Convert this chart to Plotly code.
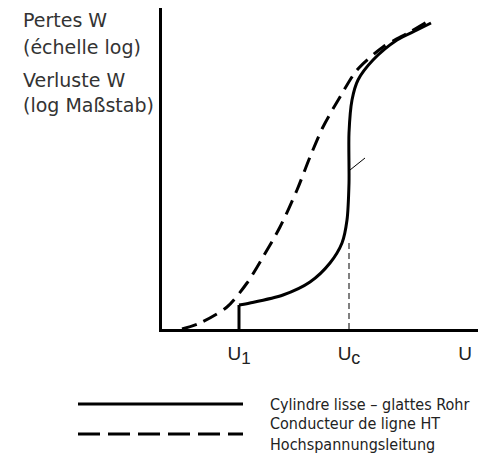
import plotly.graph_objects as go

# Achsen-Einheiten: U nach rechts, log W nach oben (schematisch)
u_glatt = [77, 77, 88, 121, 148, 168, 180, 185, 187, 187, 190, 196, 211, 235, 255, 269]
w_glatt = [0, 24, 26, 34, 47, 66, 86, 109, 146, 196, 229, 249, 269, 289, 299, 306]

u_leiter = [20, 38, 65, 85, 101, 118, 135, 148, 161, 178, 195, 221, 248, 265]
w_leiter = [0, 6, 22, 46, 72, 102, 139, 172, 202, 232, 259, 282, 297, 307]

u_c = 187
w_c_top = 89
tick_vals = [77, 187, 303]
tick_text = ["U<sub><span style='font-size:17px'>1</span></sub>",
             "U<sub><span style='font-size:18px'>c</span></sub>", "U"]

leg_glatt = "Cylindre lisse – glattes Rohr"
leg_leiter = "Conducteur de ligne HT<br>Hochspannungsleitung"

# Seite hat 8px Rand (body margin) -> Figur etwas kleiner
OFF = 8
W, H = 486 - OFF, 456 - OFF
L, B, T = 162 - OFF, 127, 0


def px(xs):  # Bildschirm-Pixel -> paper (x)
    return (xs - OFF - L) / (W - L)


def py(ys):  # Bildschirm-Pixel -> paper (y)
    return (H - B - (ys - OFF)) / (H - B - T)


fig = go.Figure()

# glattes Rohr: senkrechter Sprung bei U1, dann Kurve
fig.add_trace(go.Scatter(x=u_glatt[:2], y=w_glatt[:2], mode="lines",
                         line=dict(color="black", width=3),
                         showlegend=False, hoverinfo="skip"))
fig.add_trace(go.Scatter(x=u_glatt[1:], y=w_glatt[1:], mode="lines",
                         line=dict(color="black", width=3, shape="spline", smoothing=0.8),
                         name=leg_glatt, showlegend=False))
fig.add_trace(go.Scatter(x=u_leiter, y=w_leiter, mode="lines",
                         line=dict(color="black", width=3, shape="spline", smoothing=0.8,
                                   dash="15px,8px"),
                         name=leg_leiter, showlegend=False))
# Hilfslinie bei Uc
fig.add_trace(go.Scatter(x=[u_c, u_c], y=[0, w_c_top], mode="lines",
                         line=dict(color="black", width=1, dash="6px,4px"),
                         showlegend=False, hoverinfo="skip"))
# kleiner Strich an der Kurve
fig.add_trace(go.Scatter(x=[188, 203], y=[159, 171], mode="lines",
                         line=dict(color="black", width=1),
                         showlegend=False, hoverinfo="skip"))

# Beschriftung der y-Achse
lab_font = dict(family="DejaVu Sans", size=19, color="#333")
for txt, yy in [("Pertes W", 20), ("(échelle log)", 47), ("Verluste W", 80), ("(log Maßstab)", 105)]:
    fig.add_annotation(text=txt, xref="paper", yref="paper", x=px(21), y=py(yy),
                       xanchor="left", yanchor="middle", showarrow=False, font=lab_font)

# Legende von Hand
leg_font = dict(family="DejaVu Sans Condensed, Roboto Condensed, Liberation Sans", size=16, color="#222")
fig.add_shape(type="line", xref="paper", yref="paper", x0=px(78), x1=px(243), y0=py(404), y1=py(404),
              line=dict(color="black", width=3))
fig.add_shape(type="line", xref="paper", yref="paper", x0=px(78), x1=px(243), y0=py(434), y1=py(434),
              line=dict(color="black", width=3, dash="22px,8px"))
fig.add_annotation(text=leg_glatt, xref="paper", yref="paper", x=px(268), y=py(404),
                   xanchor="left", yanchor="middle", showarrow=False, font=leg_font, align="left")
fig.add_annotation(text=leg_leiter, xref="paper", yref="paper", x=px(268), y=py(434),
                   xanchor="left", yanchor="middle", showarrow=False, font=leg_font, align="left")

fig.update_xaxes(range=[0, W - L], showline=True, linewidth=3, linecolor="black",
                 showgrid=False, zeroline=False, tickvals=tick_vals, ticktext=tick_text,
                 ticks="", ticklabelstandoff=5, automargin=False,
                 tickfont=dict(family="Liberation Sans", size=19, color="#222"))
fig.update_yaxes(range=[0, H - B - T], showline=True, linewidth=3, linecolor="black",
                 showgrid=False, zeroline=False, showticklabels=False, ticks="", automargin=False)

fig.update_layout(
    width=W, height=H,
    margin=dict(l=L, r=0, t=T, b=B, autoexpand=False),
    plot_bgcolor="white", paper_bgcolor="white",
    showlegend=False,
)

fig.write_html("out.html")
